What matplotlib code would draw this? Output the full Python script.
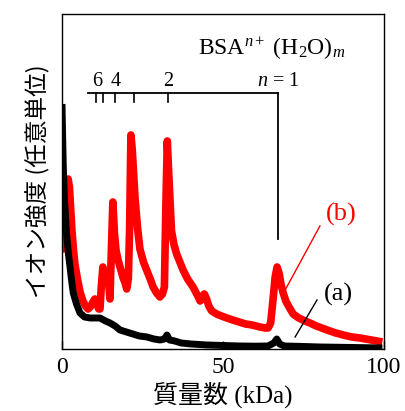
import matplotlib
matplotlib.use("Agg")
import matplotlib.pyplot as plt
import numpy as np

plt.rcParams['font.family'] = ['Liberation Serif', 'Noto Sans CJK JP']
plt.rcParams['mathtext.fontset'] = 'custom'
plt.rcParams['mathtext.rm'] = 'Liberation Serif'
plt.rcParams['mathtext.it'] = 'Liberation Serif:italic'

# spectrum (b), red: mass (kDa) vs intensity (arb.)
mass_b = [0.1, 0.4, 0.8, 1.2, 1.6, 1.9, 2.3, 2.7, 3.1, 3.6, 4.0, 4.8, 5.6, 6.5, 7.3, 8.1, 9.0,
          9.6, 10.2, 10.8, 11.4, 11.8, 12.2, 12.7, 13.1, 13.5, 14.0, 14.4, 14.9, 15.3, 15.8,
          16.3, 16.8, 17.5, 18.2, 19.0, 19.6, 20.1, 20.6, 21.0, 21.4, 21.8, 22.2, 22.7, 23.5,
          24.2, 25.3, 26.4, 27.4, 28.3, 29.4, 30.4, 31.2, 31.8, 32.3, 32.7, 33.0, 33.5, 34.0,
          34.8, 35.6, 37.6, 39.0, 40.7, 42.0, 42.9, 43.5, 44.2, 44.9, 45.6, 46.5, 48.0, 49.5,
          51.2, 53.0, 55.0, 57.0, 59.0, 61.5, 63.0, 64.0, 64.8, 65.5, 66.2, 66.8, 67.4, 68.0,
          68.6, 69.5, 70.5, 71.8, 73.5, 75.5, 77.0, 79.0, 82.3, 85.0, 87.3, 90.0, 92.5, 96.0, 99.5]
int_b = [145, 100, 118, 150, 165, 170, 162, 140, 118, 98, 85, 70, 57, 48, 43, 40, 43,
         47, 50, 46, 40, 40, 62, 82, 72, 66, 72, 70, 50, 95, 147,
         115, 98, 88, 80, 71, 66, 60, 70, 120, 214, 200, 178, 150, 120,
         100, 87, 78, 70, 62, 56, 52, 55, 62, 150, 208, 186, 152, 118,
         104, 95, 79, 70, 62, 54, 48, 52, 55, 50, 43, 38, 35, 33,
         31, 29, 27, 25, 24, 22, 21, 21, 26, 48, 72, 82, 76, 65,
         57, 48, 42, 35, 31, 28, 26, 23, 19, 16, 14, 12, 11, 9, 7]

# spectrum (a), black
mass_a = [0.0, 0.2, 0.4, 0.8, 1.4, 2.0, 2.5, 3.0, 3.5, 4.5, 5.6, 7.0, 8.7, 10.5, 11.8, 13.5, 14.9,
          16.5, 18.0, 20.0, 22.0, 24.0, 26.4, 28.5, 30.5, 31.8, 32.6, 33.4, 35.0, 37.0, 40.0, 45.0,
          50.0, 55.0, 60.0, 64.0, 65.8, 66.7, 67.6, 69.0, 75.0, 80.0, 90.0, 99.5]
int_a = [245, 212, 182, 148, 116, 95, 82, 68, 56, 45, 36, 32, 31, 31, 31, 28, 26,
         23, 19, 17, 15, 13, 12, 10, 9, 10, 14, 9, 8, 6, 5, 4,
         3.5, 3, 2.8, 3, 6, 10, 5, 3, 2.5, 2, 1.5, 1]

# BSA^{n+} series markers
n_labels = ['6', '4', '2']
n_label_pos = [10.8, 16.8, 32.9]
n_tick_pos = [10.6, 12.8, 16.5, 22.4, 33.0]
n1_pos = 67.1

xticks = [0, 50, 100]

fig = plt.figure(figsize=(4.06, 4.11), dpi=100)
ax = fig.add_axes([0.1527, 0.1509, 0.7931, 0.815])

ax.plot(mass_b, int_b, color='red', lw=5.5, solid_joinstyle='round', solid_capstyle='butt')
ax.plot(mass_a, int_a, color='black', lw=5, solid_joinstyle='round', solid_capstyle='butt')

ax.set_xlim(0, 100)
ax.set_ylim(0, 335)
ax.set_xticks(xticks)
ax.set_yticks([])
ax.tick_params(axis='x', direction='in', length=6, width=1, labelsize=17, pad=6)
for s in ax.spines.values():
    s.set_linewidth(1.0)

ax.set_xlabel('質量数 (kDa)', fontsize=18, labelpad=2)
ax.set_ylabel('イオン強度 (任意単位)', fontsize=17, family=['Noto Sans CJK JP'], labelpad=8)

# bracket for the n series
ax.plot([8.1, n1_pos], [256, 256], color='black', lw=1.3)
ax.plot([n1_pos, n1_pos], [256, 110], color='black', lw=1.3)
for xp in n_tick_pos:
    ax.plot([xp, xp], [256, 247], color='black', lw=1.2)
for lab, xp in zip(n_labels, n_label_pos):
    ax.text(xp, 263, lab, fontsize=14.5, ha='center', va='baseline')
ax.text(n1_pos, 263, '$n$ = 1', fontsize=14.5, ha='center', va='baseline')
ax.text(42.2, 294, r'BSA$^{n+}$ (H$_2$O)$_m$', fontsize=17, ha='left', va='baseline')

# labels (a) and (b)
ax.text(86.6, 135, '(b)', fontsize=19, color='red', ha='center', va='center')
ax.plot([80.1, 69.3], [123, 59], color='red', lw=1)
ax.text(85.7, 55, '(a)', fontsize=19, color='black', ha='center', va='center')
ax.plot([79.2, 72.4], [49, 12], color='black', lw=1)

fig.savefig('out.png', dpi=100)
